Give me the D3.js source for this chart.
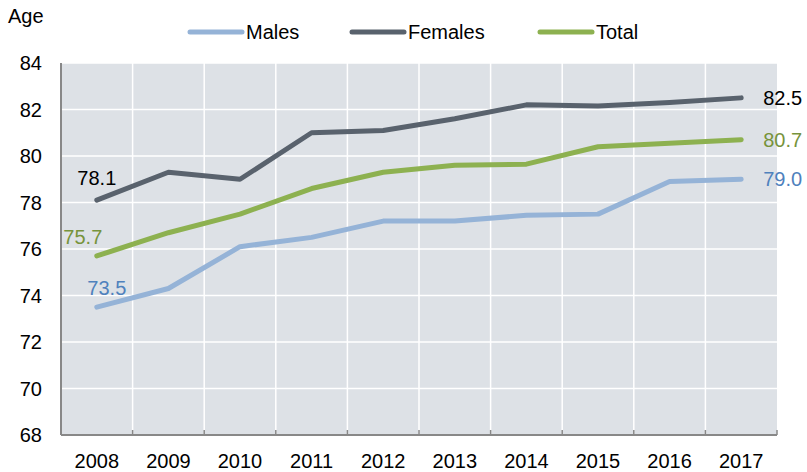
<!DOCTYPE html>
<html>
<head>
<meta charset="utf-8">
<script src="https://cdn.jsdelivr.net/npm/d3@7"></script>
<style>
  body { margin: 0; background: #fff; }
  svg text { font-family: "Liberation Sans", Arial, sans-serif; }
</style>
</head>
<body>
<svg id="chart" width="807" height="472"></svg>
<script>
const years = ["2008", "2009", "2010", "2011", "2012", "2013", "2014", "2015", "2016", "2017"];
const males = [73.5, 74.3, 76.1, 76.5, 77.2, 77.2, 77.45, 77.5, 78.9, 79.0];
const females = [78.1, 79.3, 79.0, 81.0, 81.1, 81.6, 82.2, 82.15, 82.3, 82.5];
const total = [75.7, 76.7, 77.5, 78.6, 79.3, 79.6, 79.65, 80.4, 80.55, 80.7];
const yTicks = [68, 70, 72, 74, 76, 78, 80, 82, 84];

const series = [
  { name: "Males", values: males, color: "#95b3d7", labelColor: "#4f81bd" },
  { name: "Females", values: females, color: "#59626d", labelColor: "#000000" },
  { name: "Total", values: total, color: "#8db150", labelColor: "#77933c" },
];

const margin = { top: 63, right: 30, bottom: 37, left: 61 };
const width = 807, height = 472;
const fs = 20;
const svg = d3.select("#chart");

const x = d3.scaleBand().domain(years).range([margin.left, width - margin.right]);
const y = d3.scaleLinear().domain([68, 84]).range([height - margin.bottom, margin.top]);
const cx = (d) => x(d) + x.bandwidth() / 2;

// plot background
svg.append("rect")
  .attr("x", margin.left).attr("y", margin.top)
  .attr("width", x.range()[1] - margin.left)
  .attr("height", y(68) - margin.top)
  .attr("fill", "#dde1e6");

// horizontal grid
svg.append("g")
  .selectAll("line")
  .data(yTicks.slice(1))
  .enter().append("line")
  .attr("x1", margin.left).attr("x2", x.range()[1])
  .attr("y1", (d) => y(d)).attr("y2", (d) => y(d))
  .attr("stroke", "#fff").attr("stroke-width", 1.5);

// vertical grid
svg.append("g")
  .selectAll("line")
  .data(years.slice(1))
  .enter().append("line")
  .attr("x1", (d) => x(d)).attr("x2", (d) => x(d))
  .attr("y1", margin.top).attr("y2", y(68))
  .attr("stroke", "#fff").attr("stroke-width", 1.5);

// x axis ticks (inside, small)
svg.append("g")
  .selectAll("line")
  .data(years.slice(1).concat(["end"]))
  .enter().append("line")
  .attr("x1", (d) => d === "end" ? x.range()[1] : x(d))
  .attr("x2", (d) => d === "end" ? x.range()[1] : x(d))
  .attr("y1", y(68)).attr("y2", y(68) - 5)
  .attr("stroke", "#888").attr("stroke-width", 1.5);

// axes lines
svg.append("line")
  .attr("x1", margin.left).attr("x2", x.range()[1])
  .attr("y1", y(68)).attr("y2", y(68))
  .attr("stroke", "#888").attr("stroke-width", 2);
svg.append("line")
  .attr("x1", margin.left).attr("x2", margin.left)
  .attr("y1", margin.top).attr("y2", y(68))
  .attr("stroke", "#888").attr("stroke-width", 2);

// y tick labels
svg.append("g")
  .selectAll("text")
  .data(yTicks)
  .enter().append("text")
  .attr("x", 42).attr("y", (d) => y(d) + 7)
  .attr("text-anchor", "end")
  .attr("font-size", fs)
  .text((d) => d);

// x tick labels
svg.append("g")
  .selectAll("text")
  .data(years)
  .enter().append("text")
  .attr("x", (d) => cx(d)).attr("y", 468)
  .attr("text-anchor", "middle")
  .attr("font-size", fs)
  .text((d) => d);

svg.append("text")
  .attr("x", 8).attr("y", 23)
  .attr("font-size", fs)
  .text("Age");

// lines
const line = d3.line()
  .x((d, i) => cx(years[i]))
  .y((d) => y(d));

series.forEach((s) => {
  svg.append("path")
    .datum(s.values)
    .attr("d", line)
    .attr("fill", "none")
    .attr("stroke", s.color)
    .attr("stroke-width", 5)
    .attr("stroke-linecap", "round")
    .attr("stroke-linejoin", "round");
});

// value labels
const last = years.length - 1;
const endX = cx(years[last]) + 22;
svg.append("text").attr("x", cx(years[0])).attr("y", y(females[0]) - 15)
  .attr("text-anchor", "middle").attr("font-size", fs).attr("fill", series[1].labelColor)
  .text(females[0].toFixed(1));
svg.append("text").attr("x", cx(years[0]) - 14).attr("y", y(total[0]) - 12)
  .attr("text-anchor", "middle").attr("font-size", fs).attr("fill", series[2].labelColor)
  .text(total[0].toFixed(1));
svg.append("text").attr("x", cx(years[0]) + 10).attr("y", y(males[0]) - 12)
  .attr("text-anchor", "middle").attr("font-size", fs).attr("fill", series[0].labelColor)
  .text(males[0].toFixed(1));
series.forEach((s) => {
  svg.append("text")
    .attr("x", endX).attr("y", y(s.values[last]) + 7)
    .attr("font-size", fs).attr("fill", s.labelColor)
    .text(s.values[last].toFixed(1));
});

// legend
const legendX = [188, 350, 538];
series.forEach((s, i) => {
  const g = svg.append("g").attr("transform", `translate(${legendX[i]},32)`);
  g.append("line").attr("x1", 2).attr("x2", 54).attr("y1", 0).attr("y2", 0)
    .attr("stroke", s.color).attr("stroke-width", 5).attr("stroke-linecap", "round");
  g.append("text").attr("x", 58).attr("y", 7).attr("font-size", fs).text(s.name);
});
</script>
</body>
</html>
